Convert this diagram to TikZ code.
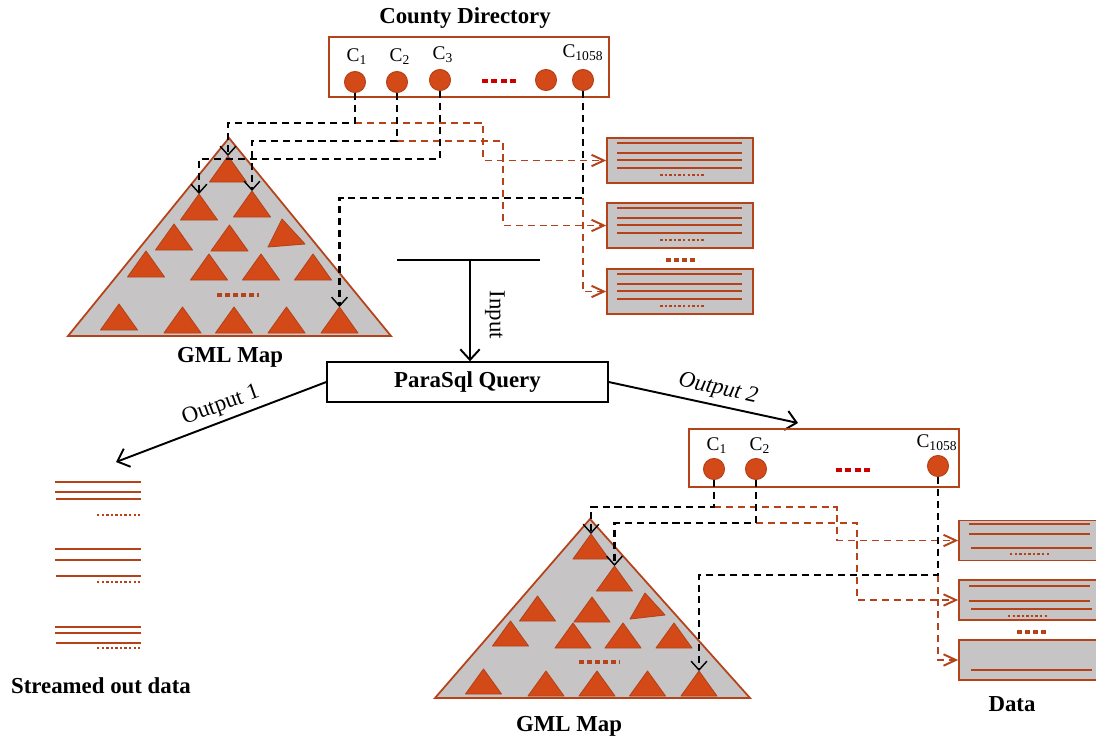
\documentclass[tikz,border=0pt]{standalone}
\usepackage{fontspec}
\setmainfont{Liberation Serif}
\usetikzlibrary{arrows.meta,calc}
\definecolor{brn}{RGB}{181,66,24}
\definecolor{org}{RGB}{211,74,24}
\definecolor{gry}{RGB}{198,196,196}
\definecolor{rdd}{RGB}{204,0,0}
\begin{document}
\begin{tikzpicture}[x=0.02cm,y=-0.02cm,
    lbl/.style={font=\bfseries\fontsize{13}{15}\selectfont},
    txt/.style={font=\fontsize{13}{15}\selectfont},
    cid/.style={font=\fontsize{11}{13}\selectfont,inner sep=0pt},
    dirframe/.style={draw=brn,line width=1pt},
    cty/.style={circle,draw=brn,fill=org,line width=0.6pt,minimum size=0.42cm,inner sep=0pt},
    rec/.style={draw=brn,fill=gry,line width=1pt,inner sep=0pt},
    map/.style={draw=brn,fill=gry,line width=1pt},
    tri/.style={draw=brn,fill=org,line width=0.5pt,line join=round},
    row/.style={brn,line width=1pt},
    more/.style={brn,line width=1.3pt,dash pattern=on 1.4pt off 1.2pt},
    gap/.style={brn,line width=2.4pt,dash pattern=on 2.8pt off 1.8pt},
    reddots/.style={rdd,line width=2.2pt,dash pattern=on 3.4pt off 2pt},
    blk/.style={black,line width=1.3pt,dash pattern=on 4pt off 2.8pt,-{Straight Barb[length=5pt,width=9pt,line width=0.8pt]}},
    pth/.style={brn,line width=1pt,dash pattern=on 4pt off 2.8pt,-{Straight Barb[length=7pt,width=6.5pt,line width=1.1pt]}},
    flow/.style={black,line width=1.1pt,-{Straight Barb[length=6pt,width=11pt]}}]
\useasboundingbox (0,0) rectangle (1096,738);

\node[lbl] (ttl) at (465,18) {County Directory};
\node[dirframe,minimum width=5.6cm,minimum height=1.2cm] (dir) at (469,67) {};
\node[cty] (c1) at (355,82) {};
\node[cty] (c2) at (397,82) {};
\node[cty] (c3) at (440,80) {};
\node[cty] (c4) at (546,80) {};
\node[cty] (c5) at (583,80) {};
\node[cid] (n1) at (357,57) {C\textsubscript{1}};
\node[cid] (n2) at (400,57) {C\textsubscript{2}};
\node[cid] (n3) at (443,55) {C\textsubscript{3}};
\node[cid] (n5) at (583,53) {C\textsubscript{1058}};
\draw[reddots] (482,81) -- (516,81);

\draw[map] (68,336) -- (229,138) -- (391,336) -- cycle;
\foreach \x/\y/\n in {228/182/t1,199/220/t2,252/217/t3,174/250/t4,229.5/251/t5,
    146/277/t7,209/280/t8,261/280/t9,313/280/t10,
    119/330/t11,182.5/333/t12,234/333/t13,286.5/333/t14,339.5/333/t15}
  \draw[tri] (\x-18.5,\y) -- (\x,\y-26) coordinate (\n) -- (\x+18.5,\y) -- cycle;
\draw[tri] (268,247) -- (282,219) coordinate (t6) -- (305,244) -- cycle;
\draw[gap] (217,295) -- (259,295);
\node[lbl] (gml) at (230,357) {GML Map};

\node[rec,minimum width=2.92cm,minimum height=0.9cm] (d1) at (680,160.5) {};
\node[rec,minimum width=2.92cm,minimum height=0.9cm] (d2) at (680,225.5) {};
\node[rec,minimum width=2.92cm,minimum height=0.9cm] (d3) at (680,291.5) {};
\foreach \b in {d1,d2,d3}{
  \foreach \dy in {6,16,23,31}
    \draw[row] ($(\b.north west)+(11,\dy)$) -- ++(125,0);
  \draw[more] ($(\b.north west)+(54,38)$) -- ++(44,0);
}
\draw[gap] (666,260) -- (697,260);

\coordinate (j1) at (355,123);
\coordinate (j2) at (397,141);
\coordinate (j3) at (440,159);
\coordinate (j4) at (583,198);
\coordinate (k1) at (483,160.5);
\coordinate (k2) at (503,225.5);
\coordinate (k4) at (583,291.5);
\draw[pth] (j1) -| (k1) -- (d1);
\draw[pth] (j2) -| (k2) -- (d2);
\draw[pth] (j4) -- (k4) -- (d3);
\draw[blk] (c1) -- (j1) -| (t1);
\draw[blk] (c2) -- (j2) -| (t3);
\draw[blk] (c3) -- (j3) -| (t2);
\draw[blk] (c5) -- (j4) -| (t15);

\node[draw,line width=0.8pt,minimum width=5.62cm,minimum height=0.8cm,lbl] (qry) at (467.5,382) {ParaSql Query};
\coordinate (in1) at (397,260);
\coordinate (in2) at (540,260);
\coordinate (inp) at (470,260);
\draw[line width=1pt] (in1) -- (in2);
\draw[flow] (inp) -- (inp |- qry.north);
\node[txt,rotate=-90] (inl) at (495,315) {Input};

\coordinate (o1) at (116,462);
\coordinate (o2) at (798,423);
\draw[flow] (qry.west) -- (o1);
\draw[flow] (qry.east) -- (o2);
\node[txt,rotate=20] (ol1) at (221,406) {Output 1};
\node[txt,rotate=-12] (ol2) at (718,389) {\itshape Output 2};

\foreach \y in {482,492,549,560,627,633} \draw[row] (55,\y) -- (141,\y);
\foreach \y in {499,576,643} \draw[row] (56,\y) -- (141,\y);
\foreach \y in {515,582,648} \draw[more] (97,\y) -- (140,\y);
\node[lbl] (sod) at (101,686) {Streamed out data};

\node[dirframe,minimum width=5.4cm,minimum height=1.16cm] (dir2) at (824,458) {};
\node[cty] (b1) at (714,469) {};
\node[cty] (b2) at (756,469) {};
\node[cty] (b3) at (938,466) {};
\node[cid] (m1l) at (717,446) {C\textsubscript{1}};
\node[cid] (m2l) at (760,446) {C\textsubscript{2}};
\node[cid] (m3l) at (937,443) {C\textsubscript{1058}};
\draw[reddots] (836,470) -- (870,470);

\draw[map] (435,698) -- (590,519) -- (750,698) -- cycle;
\foreach \x/\y/\n in {591/559/s1,614.5/591/s2,537.5/621/s3,592/622/s4,
    510.5/646/s6,573/648/s7,623/648/s8,674/648/s9,
    483.5/694/s10,546/696/s11,597/696/s12,647.5/696/s13,699/696/s14}
  \draw[tri] (\x-18,\y) -- (\x,\y-25) coordinate (\n) -- (\x+18,\y) -- cycle;
\draw[tri] (630,619) -- (645,593) coordinate (s5) -- (665,615) -- cycle;
\draw[gap] (579,662) -- (620,662);
\node[lbl] (gml2) at (569,726) {GML Map};

\node[rec,minimum width=2.82cm,minimum height=0.8cm] (e1) at (1029.5,540.5) {};
\node[rec,minimum width=2.82cm,minimum height=0.8cm] (e2) at (1029.5,600) {};
\node[rec,minimum width=2.82cm,minimum height=0.8cm] (e3) at (1029.5,660) {};
\draw[row] (969,524) -- (1090,524);
\draw[row] (969,534) -- (1090,534);
\draw[row] (971,548) -- (1092,548);
\draw[more] (1010,554) -- (1050,554);
\draw[row] (969,586) -- (1090,586);
\draw[row] (969,601) -- (1090,601);
\draw[row] (971,609) -- (1092,609);
\draw[more] (1008,616) -- (1047,616);
\draw[row] (971,670) -- (1092,670);
\draw[gap] (1017,632) -- (1047,632);
\node[lbl] (dat) at (1012,704) {Data};

\coordinate (m1) at (714,507);
\coordinate (m2) at (756,523);
\coordinate (m3) at (938,575);
\coordinate (p1) at (837,540.5);
\coordinate (p2) at (857,600);
\coordinate (p3) at (938,660);
\draw[pth] (m1) -| (p1) -- (e1);
\draw[pth] (m2) -| (p2) -- (e2);
\draw[pth] (m3) -- (p3) -- (e3);
\draw[blk] (b1) -- (m1) -| (s1);
\draw[blk] (b2) -- (m2) -| (s2);
\draw[blk] (b3) -- (m3) -| (s14);
\end{tikzpicture}
\end{document}
